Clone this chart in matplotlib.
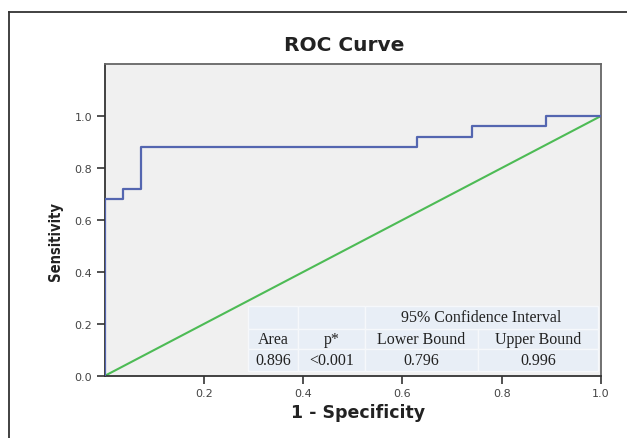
import matplotlib
matplotlib.use("Agg")
import matplotlib.pyplot as plt
from matplotlib.patches import Rectangle
from matplotlib.lines import Line2D

# ROC curve points (1 - specificity, sensitivity)
fpr = [0.0, 0.0, 0.037, 0.074, 0.630, 0.741, 0.889, 1.0]
tpr = [0.0, 0.68, 0.72, 0.88, 0.92, 0.96, 1.0, 1.0]
ref_line = [0.0, 1.0]

x_ticks = [0.2, 0.4, 0.6, 0.8, 1.0]
y_ticks = [0.0, 0.2, 0.4, 0.6, 0.8, 1.0]

# table content
ci_header = "95% Confidence Interval"
col_names = ["Area", "p*", "Lower Bound", "Upper Bound"]
col_values = ["0.896", "<0.001", "0.796", "0.996"]

fig = plt.figure(figsize=(6.27, 4.39), dpi=100)
fig.patch.set_facecolor("white")

# outer frame (top and left edges only visible)
fig.add_artist(Line2D([9 / 627, 1.0], [1 - 13 / 439, 1 - 13 / 439], color="#333333", lw=1.3))
fig.add_artist(Line2D([9 / 627, 9 / 627], [0.0, 1 - 13 / 439], color="#333333", lw=1.3))

ax = fig.add_axes([104.5 / 627, 1 - 377 / 439, 496.5 / 627, 312 / 439])
ax.set_facecolor("#f0f0f0")
ax.set_xlim(0, 1)
ax.set_ylim(0, 1.2)

ax.plot(ref_line, ref_line, color="#4dbb55", lw=1.5, zorder=2)
ax.step(fpr, tpr, where="post", color="#5466b0", lw=1.6, zorder=3)

ax.set_xticks(x_ticks)
ax.set_yticks(y_ticks)
ax.set_xticklabels([f"{t:.1f}" for t in x_ticks])
ax.set_yticklabels([f"{t:.1f}" for t in y_ticks])
ax.tick_params(direction="out", length=6, width=1.2, colors="#333333",
               labelsize=8, labelcolor="#444444", pad=3)

for side in ["left", "bottom"]:
    ax.spines[side].set_color("#333333")
    ax.spines[side].set_linewidth(1.3)
for side in ["top", "right"]:
    ax.spines[side].set_color("#666666")
    ax.spines[side].set_linewidth(1.3)

ax.set_title("ROC Curve", fontsize=14.5, fontweight="bold", color="#222222", pad=10, x=0.482)
ax.set_xlabel("1 - Specificity", fontsize=12.5, fontweight="bold", color="#222222", labelpad=0)
ax.xaxis.set_label_coords(0.51, -0.085)
ax.set_ylabel("Sensitivity", fontsize=10.5, fontweight="bold", color="#222222",
              family=["DejaVu Sans"], fontstretch="condensed")
ax.yaxis.set_label_coords(-0.084, 0.435)

# table drawn in axes fraction coordinates
col_edges = [248, 298, 365, 478, 598]
row_edges = [307, 330, 350, 372]
def fx(px):
    return (px - 104.5) / 496.5
def fy(py):
    return (377 - py) / 312

tfont = dict(family=["Liberation Serif", "DejaVu Serif"], fontsize=11.5, color="#222222",
             ha="center", va="center", transform=ax.transAxes, zorder=6)

for r in range(3):
    for c in range(4):
        if r == 0 and c >= 2:
            continue
        ax.add_patch(Rectangle((fx(col_edges[c]), fy(row_edges[r + 1])),
                               fx(col_edges[c + 1]) - fx(col_edges[c]),
                               fy(row_edges[r]) - fy(row_edges[r + 1]),
                               transform=ax.transAxes, facecolor="#e8eef6",
                               edgecolor="#f6f8fb", lw=1.0, zorder=5))
ax.add_patch(Rectangle((fx(col_edges[2]), fy(row_edges[1])),
                       fx(col_edges[4]) - fx(col_edges[2]),
                       fy(row_edges[0]) - fy(row_edges[1]),
                       transform=ax.transAxes, facecolor="#e8eef6",
                       edgecolor="#f6f8fb", lw=1.0, zorder=5))

ax.text(fx((col_edges[2] + col_edges[4]) / 2), fy((row_edges[0] + row_edges[1]) / 2), ci_header, **tfont)
for c in range(4):
    xc = fx((col_edges[c] + col_edges[c + 1]) / 2)
    ax.text(xc, fy((row_edges[1] + row_edges[2]) / 2), col_names[c], **tfont)
    ax.text(xc, fy((row_edges[2] + row_edges[3]) / 2), col_values[c], **tfont)

fig.savefig("out.png", dpi=100)
